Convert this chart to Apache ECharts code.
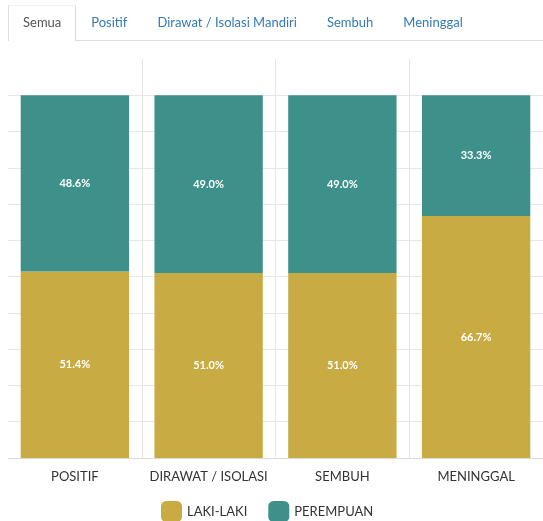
<!DOCTYPE html>
<html>
<head>
<meta charset="utf-8">
<script src="https://cdn.jsdelivr.net/npm/echarts@6/dist/echarts.min.js"></script>
<style>
html,body{margin:0;padding:0;background:#fff;}
#wrap{position:relative;width:543px;height:521px;overflow:hidden;}
#chart{position:absolute;left:0;top:0;width:543px;height:521px;}
#tabs{position:absolute;left:8px;top:5px;right:0;height:35px;border-bottom:1px solid #ddd;display:flex;font-family:Lato,"Open Sans",sans-serif;font-size:13px;z-index:2;}
#tabs div{padding:0 14px;line-height:33px;color:#337ab7;border:1px solid transparent;border-bottom:none;}
#tabs div.active{color:#555;background:#fff;border-color:#ddd;border-top-color:#f0f0f0;margin-bottom:-1px;padding:0 14px;}
</style>
</head>
<body>
<div id="wrap">
<div id="chart"></div>
<div id="tabs"></div>
</div>
<script>
const tabs = ['Semua', 'Positif', 'Dirawat / Isolasi Mandiri', 'Sembuh', 'Meninggal'];
const categories = ['POSITIF', 'DIRAWAT / ISOLASI', 'SEMBUH', 'MENINGGAL'];
const lakiLaki = [51.4, 51.0, 51.0, 66.7];
const perempuan = [48.6, 49.0, 49.0, 33.3];
const seriesNames = ['LAKI-LAKI', 'PEREMPUAN'];

const tabEl = document.getElementById('tabs');
tabs.forEach((t, i) => {
  const d = document.createElement('div');
  d.textContent = t;
  if (i === 0) d.className = 'active';
  tabEl.appendChild(d);
});

const chart = echarts.init(document.getElementById('chart'));
const ySplit = [];
for (let i = 0; i < 12; i++) ySplit.push(i === 11 ? 'rgba(0,0,0,0)' : '#e6e6e6');
const label = {
  show: true, position: 'inside', color: '#fff', fontSize: 11, fontWeight: 'bold',
  fontFamily: 'Lato, "Open Sans", sans-serif',
  formatter: p => p.value.toFixed(1) + '%'
};
chart.setOption({
  animation: false,
  textStyle: { fontFamily: 'Lato, "Open Sans", sans-serif' },
  grid: { left: 8, right: -1, top: 59, bottom: 63, containLabel: false },
  legend: {
    data: seriesNames, left: 156, top: 496, icon: 'roundRect', itemWidth: 21, itemHeight: 21,
    itemGap: 21, textStyle: { color: '#333', fontSize: 13 }
  },
  xAxis: {
    type: 'category', data: categories,
    axisLine: { lineStyle: { color: '#d9d9d9' } },
    axisTick: { show: false },
    axisLabel: { color: '#333', fontSize: 13, margin: 12, interval: 0 },
    splitLine: { show: true, interval: 0, lineStyle: { color: ['rgba(0,0,0,0)', '#e6e6e6', '#e6e6e6', '#e6e6e6', '#e6e6e6'] } }
  },
  yAxis: {
    type: 'value', min: 0, max: 110, interval: 10,
    axisLabel: { show: false }, axisLine: { show: false }, axisTick: { show: false },
    splitLine: { lineStyle: { color: ySplit } }
  },
  series: [
    { name: seriesNames[0], type: 'bar', stack: 'g', data: lakiLaki, barWidth: '81%',
      itemStyle: { color: '#c8ab43' }, label: label },
    { name: seriesNames[1], type: 'bar', stack: 'g', data: perempuan, barWidth: '81%',
      itemStyle: { color: '#3d918a' }, label: label }
  ]
});
</script>
</body>
</html>
